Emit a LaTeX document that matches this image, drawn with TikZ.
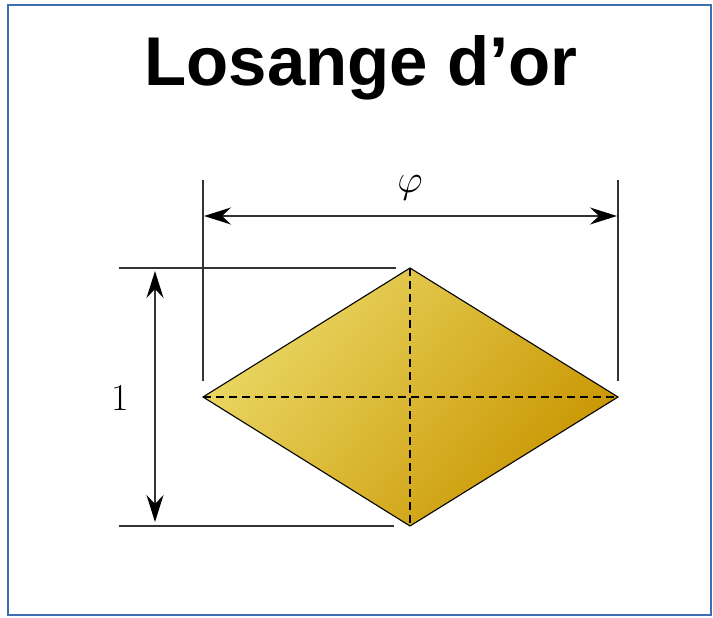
\documentclass[tikz,border=0pt]{standalone}
\usepackage{fontspec}
\setsansfont{Liberation Sans}
\usetikzlibrary{arrows.meta}
\definecolor{frameblue}{HTML}{3E6DB0}
\definecolor{goldlight}{HTML}{EAD865}
\definecolor{golddark}{HTML}{C99500}
\definecolor{dimgray}{HTML}{333333}
\tikzset{
  tip/.tip={Stealth[length=27pt,width=17pt,inset=9pt,black]},
  dimline/.style={draw=dimgray, line width=1.4pt},
  dimarrow/.style={draw=dimgray, line width=1.4pt, tip-tip},
  axisdash/.style={draw=black, line width=1.1pt, dash pattern=on 8pt off 5pt},
  lbl/.style={scale=1.9, inner sep=0pt},
}
\begin{document}
\begin{tikzpicture}[x=1pt,y=-1pt]
\useasboundingbox (0,0) rectangle (713,618);
\draw[frameblue, line width=2.5pt] (8,5) rectangle (711,615);
\node[font=\sffamily\bfseries\fontsize{69}{69}\selectfont, inner sep=0pt, anchor=base] (title) at (361,85) {Losange d’or};
% vertices
\coordinate (L) at (203,397);
\coordinate (R) at (618,397);
\coordinate (T) at (410,268);
\coordinate (B) at (410,526);
\shade[shading=axis, top color=goldlight, bottom color=golddark, shading angle=50, middle color=goldlight!50!golddark]
  (L) -- (T) -- (R) -- (B) -- cycle;
\draw[axisdash] (L) -- (R);
\draw[axisdash] (T) -- (B);
\draw[black, line width=1.1pt, line join=miter] (L) -- (T) -- (R) -- (B) -- cycle;
% extension lines
\coordinate (lx1) at (203,180); \coordinate (lx2) at (203,381);
\coordinate (rx1) at (618,180); \coordinate (rx2) at (618,381);
\coordinate (ty1) at (119,268); \coordinate (ty2) at (396,268);
\coordinate (by1) at (119,526); \coordinate (by2) at (394,526);
\draw[dimline] (lx1) -- (lx2);
\draw[dimline] (rx1) -- (rx2);
\draw[dimline] (ty1) -- (ty2);
\draw[dimline] (by1) -- (by2);
% dimension arrows
\coordinate (ha1) at (204,216); \coordinate (ha2) at (617,216);
\coordinate (va1) at (155,271); \coordinate (va2) at (155,522);
\draw[dimarrow] (ha1) -- (ha2);
\draw[dimarrow] (va1) -- (va2);
\node[lbl] (phi) at (410,188) {\fontsize{20}{20}\selectfont$\varphi$};
\node[lbl] (one) at (120,398) {\fontsize{20}{20}\selectfont 1};
\end{tikzpicture}
\end{document}
